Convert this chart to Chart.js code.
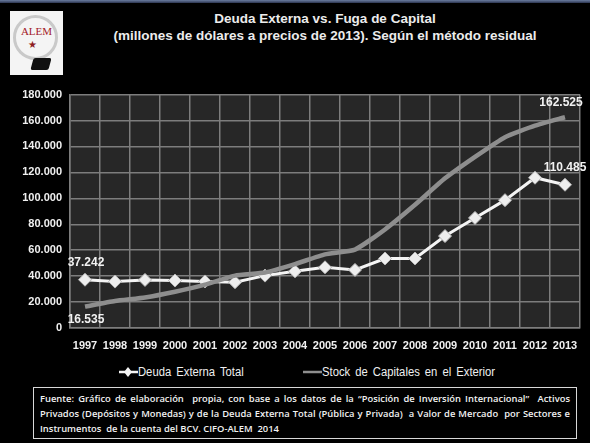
<!DOCTYPE html>
<html lang="es">
<head>
<meta charset="utf-8">
<title>Deuda Externa vs. Fuga de Capital</title>
<script src="https://cdn.jsdelivr.net/npm/chart.js@4.4.1/dist/chart.umd.min.js"></script>
<style>
    html, body { margin: 0; padding: 0; background: #000; }
    body { width: 590px; height: 443px; position: relative; overflow: hidden; font-family: "Liberation Sans", Arial, sans-serif; }
    .franja { position: absolute; left: 0; top: 0; width: 590px; height: 3px; background: linear-gradient(#6b7da0, #2c3550); }
    .logo { position: absolute; left: 10px; top: 11px; width: 53px; height: 64px; background: #f4f4f4; }
    .logo .aro { position: absolute; left: 3px; top: 4px; width: 45px; height: 45px; border: 3px solid #c9c9c9; border-radius: 50%; box-sizing: border-box; }
    .logo .nombre { position: absolute; left: 0; top: 14px; width: 53px; text-align: center; font-family: "Liberation Serif", serif; font-size: 11px; color: #a3202a; }
    .logo .estrella { position: absolute; left: 18px; top: 28px; font-size: 10px; color: #8e1c22; }
    .logo .marca { position: absolute; left: 22px; top: 47px; width: 18px; height: 12px; background: #111; transform: skewX(-15deg); border-radius: 2px; }
    .titulo { position: absolute; left: 60px; width: 530px; text-align: center; color: #ececec; font-weight: bold; font-size: 13.5px; }
    #contenedor { position: absolute; left: 0; top: 80px; width: 590px; height: 282px; }
    .leyenda { position: absolute; top: 363px; height: 18px; line-height: 18px; }
    .leyenda span { display: inline-block; color: #f0f0f0; font-size: 12.5px; word-spacing: 2.2px; transform: scaleX(0.9); transform-origin: left center; white-space: nowrap; vertical-align: top; }
    .leyenda svg { vertical-align: top; margin-top: 2px; }
    .fuente { position: absolute; left: 33px; top: 387px; width: 544px; height: 52px; box-sizing: border-box; border: 1.5px solid #d8d8d8; padding: 3px 6px 0 6px; color: #f2f2f2; font-family: "Open Sans", sans-serif; font-size: 9.4px; font-weight: 600; line-height: 15px; }
    .fuente div { text-align: justify; text-align-last: justify; white-space: nowrap; }
    .fuente div.ultima { text-align-last: left; }
</style>
</head>
<body>
<div class="franja"></div>
<div class="logo">
    <div class="aro"></div>
    <div class="nombre">ALEM</div>
    <div class="estrella">&#9733;</div>
    <div class="marca"></div>
</div>
<div class="titulo" style="top: 11px;">Deuda Externa vs. Fuga de Capital</div>
<div class="titulo" style="top: 28px;">(millones de dólares a precios de 2013). Según el método residual</div>
<div id="contenedor"><canvas id="chartDeudaFuga"></canvas></div>
<div class="leyenda" style="left: 118px;">
    <svg width="20" height="14"><line x1="1" y1="7" x2="20" y2="7" stroke="#f4f4f4" stroke-width="2.5"/><polygon points="10,2 14,7 10,12 6,7" fill="#f4f4f4"/></svg><span>Deuda Externa Total</span>
</div>
<div class="leyenda" style="left: 302px;">
    <svg width="20" height="14"><line x1="1" y1="7" x2="20" y2="7" stroke="#8e8e8e" stroke-width="2.5"/></svg><span>Stock de Capitales en el Exterior</span>
</div>
<div class="fuente">
    <div>Fuente: Gráfico de elaboración&nbsp; propia, con base a los datos de la “Posición de Inversión Internacional”&nbsp; Activos</div>
    <div>Privados (Depósitos y Monedas) y de la Deuda Externa Total (Pública y Privada)&nbsp; a Valor de Mercado&nbsp; por Sectores e</div>
    <div class="ultima">Instrumentos&nbsp; de la cuenta del BCV. CIFO-ALEM&nbsp; 2014</div>
</div>
<script>
// Datos (millones de US$ de 2013)
const anios = ['1997', '1998', '1999', '2000', '2001', '2002', '2003', '2004', '2005',
    '2006', '2007', '2008', '2009', '2010', '2011', '2012', '2013'];
const deudaExterna = [37242, 35800, 37100, 36600, 35900, 35300, 40400, 43700, 46800,
    44800, 53600, 53600, 70900, 84900, 98600, 115900, 110485];
const stockCapitales = [16535, 20800, 23500, 27900, 33400, 40400, 42800, 49300, 56800,
    60500, 76000, 95000, 115400, 132000, 147200, 156000, 162525];
const ticksY = [0, 20000, 40000, 60000, 80000, 100000, 120000, 140000, 160000, 180000];

function formatoMiles(v) {
    return String(Math.round(v)).replace(/\B(?=(\d{3})+(?!\d))/g, '.');
}

// Fondo gris del área de trazado
const fondoArea = {
    id: 'fondoArea',
    beforeDraw(chart) {
        const a = chart.chartArea;
        const ctx = chart.ctx;
        ctx.save();
        ctx.fillStyle = '#272727';
        ctx.fillRect(a.left, a.top, a.right - a.left, a.bottom - a.top);
        ctx.restore();
    }
};

// Etiquetas de valor en el primer y último año
const posEtiquetas = [
    { ds: 1, idx: 0, dx: 1, dy: -17 },
    { ds: 0, idx: 0, dx: 1, dy: 13 },
    { ds: 0, idx: 16, dx: -4, dy: -15 },
    { ds: 1, idx: 16, dx: 0, dy: -17 }
];
const etiquetasValor = {
    id: 'etiquetasValor',
    afterDatasetsDraw(chart) {
        const ctx = chart.ctx;
        ctx.save();
        ctx.font = 'bold 12px "Liberation Sans", Arial, sans-serif';
        ctx.fillStyle = '#f2f2f2';
        ctx.textAlign = 'center';
        ctx.textBaseline = 'middle';
        posEtiquetas.forEach(p => {
            const punto = chart.getDatasetMeta(p.ds).data[p.idx];
            const valor = chart.data.datasets[p.ds].data[p.idx];
            ctx.fillText(formatoMiles(valor), punto.x + p.dx, punto.y + p.dy);
        });
        ctx.restore();
    }
};

const colorGrilla = '#7d7d7d';

new Chart(document.getElementById('chartDeudaFuga'), {
    type: 'line',
    data: {
        labels: anios,
        datasets: [{
            label: 'Stock de Capitales en el Exterior',
            data: stockCapitales,
            borderColor: '#8e8e8e',
            borderWidth: 4.5,
            pointRadius: 0,
            tension: 0.15,
            order: 0
        }, {
            label: 'Deuda Externa Total',
            data: deudaExterna,
            borderColor: '#f4f4f4',
            borderWidth: 3,
            pointStyle: 'rectRot',
            pointRadius: 6.5,
            pointBackgroundColor: '#eeeeee',
            pointBorderColor: '#b5b5b5',
            pointBorderWidth: 1,
            tension: 0,
            order: 1
        }]
    },
    options: {
        responsive: true,
        maintainAspectRatio: false,
        animation: false,
        layout: {
            padding: { left: 0, right: 10, top: 12, bottom: 0 }
        },
        plugins: {
            legend: { display: false },
            tooltip: { enabled: false }
        },
        scales: {
            x: {
                offset: true,
                grid: { offset: true, color: colorGrilla, lineWidth: 1.5, drawTicks: false },
                border: { color: colorGrilla, width: 1.5 },
                ticks: {
                    color: '#f0f0f0',
                    padding: 11,
                    maxRotation: 0,
                    autoSkip: false,
                    font: { family: '"Liberation Sans", Arial, sans-serif', size: 11, weight: 'bold' }
                },
                afterFit(axis) { axis.height = 34; }
            },
            y: {
                min: 0,
                max: 180000,
                afterBuildTicks(axis) { axis.ticks = ticksY.map(v => ({ value: v })); },
                grid: { color: colorGrilla, lineWidth: 1.5, drawTicks: false },
                border: { color: colorGrilla, width: 1.5 },
                ticks: {
                    color: '#f0f0f0',
                    padding: 8,
                    callback: v => formatoMiles(v),
                    font: { family: '"Liberation Sans", Arial, sans-serif', size: 11, weight: 'bold' }
                },
                afterFit(axis) { axis.width = 70; }
            }
        }
    },
    plugins: [fondoArea, etiquetasValor]
});
</script>
</body>
</html>
